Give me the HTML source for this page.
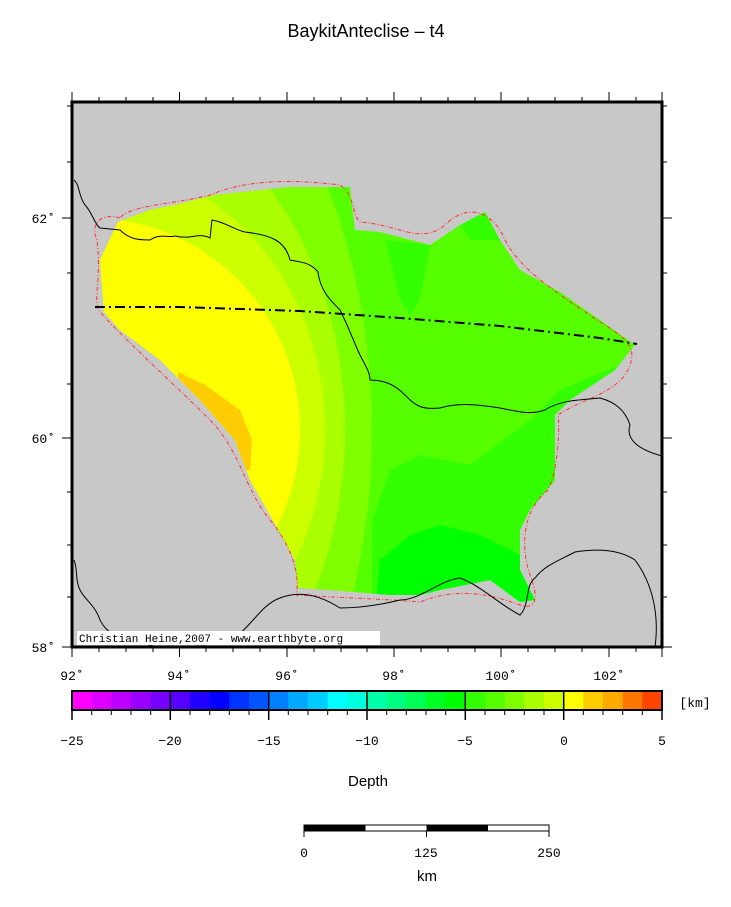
<!DOCTYPE html>
<html><head><meta charset="utf-8"><style>
body{margin:0;background:#fff;width:731px;height:902px;overflow:hidden;font-family:"Liberation Sans",sans-serif}
</style></head><body>
<svg width="731" height="902" xmlns="http://www.w3.org/2000/svg">
<defs>
<clipPath id="reg"><path d="M118,222 L150,210 L175,205 L215,195 L290,187 L350,187 L355,230 L380,232 L430,245 L460,225 L485,212 L500,240 L520,270 L560,292 L600,320 L635,345 L615,370 L600,380 L570,400 L555,415 L555,480 L530,510 L520,530 L520,570 L535,600 L520,602 L490,580 L440,590 L420,595 L390,595 L330,590 L298,588 L295,560 L270,515 L250,480 L235,440 L200,400 L160,360 L120,330 L104,312 L100,260 Z"/></clipPath>
<clipPath id="frm"><rect x="72" y="102" width="590" height="545"/></clipPath>
</defs>
<text x="366" y="37" text-anchor="middle" font-size="18">BaykitAnteclise – t4</text>
<rect x="72" y="102" width="590" height="545" fill="#c8c8c8"/>
<g clip-path="url(#reg)">
<rect x="72" y="102" width="590" height="545" fill="#55ff00"/>
<ellipse cx="90" cy="430" rx="282" ry="450" fill="#80ff00"/>
<ellipse cx="90" cy="430" rx="255" ry="340" fill="#aaff00"/>
<ellipse cx="90" cy="430" rx="235" ry="267" fill="#ccff00"/>
<ellipse cx="90" cy="430" rx="210" ry="212" fill="#ffff00"/>
<path d="M178,372 L205,385 L240,410 L252,440 L250,470 L238,470 L210,430 L178,380 Z" fill="#ffcc00"/>
<path d="M385,240 L430,245 L420,300 L410,315 L400,300 Z" fill="#33ff00"/>
<path d="M460,225 L485,212 L500,240 L470,240 Z" fill="#33ff00"/>
<path d="M372,640 L372,520 L390,470 L420,455 L470,465 L490,450 L530,420 L560,390 L620,365 L620,400 L560,420 L560,640 Z" fill="#33ff00"/>
<path d="M372,640 L380,560 L410,535 L440,525 L480,535 L510,550 L530,560 L540,640 Z" fill="#00ff00"/>
</g>
<g clip-path="url(#frm)" fill="none">
<path d="M120,218 C100,212 90,225 97,240 C102,280 92,300 100,312 C130,345 170,380 210,420 C240,450 245,490 270,520 C295,550 300,580 296,595 C350,598 400,600 420,602 C450,590 480,590 520,605 C535,610 540,600 530,575 C520,545 523,510 548,490 C558,470 560,430 558,415 C580,400 610,395 625,375 C640,350 630,340 600,322 C560,295 520,270 505,240 C495,215 470,200 445,225 C420,245 400,225 360,222 C352,215 355,195 340,185 C300,180 250,178 210,195 C170,205 130,205 120,218 Z" stroke="#ff3030" stroke-width="1" stroke-dasharray="4,2,1,2"/>
<path d="M74,180 C80,185 78,195 85,205 C92,212 95,225 100,228 L120,230 C130,240 140,240 150,240 C160,233 168,238 175,236 C190,240 200,232 210,238 L212,220 C225,222 235,230 245,232 C270,235 285,240 290,260 C300,262 310,262 318,272 C320,290 330,300 340,310 C350,330 355,345 360,355 C365,365 370,372 370,380 C385,380 395,385 405,395 C415,405 420,410 440,408 C460,402 480,405 500,408 C520,412 530,415 545,410 C560,400 580,400 600,398 C615,402 625,410 630,425 C625,440 640,450 662,456" stroke="#000" stroke-width="1"/>
<path d="M74,560 C78,570 75,580 80,590 C85,600 95,605 100,620 C110,640 130,640 150,645 C180,640 200,650 230,640 C250,630 260,605 280,598 C300,590 320,595 340,608 C360,608 380,605 400,600 C420,600 440,580 460,578 C480,585 500,605 520,615 C530,605 525,585 535,578 C545,565 560,560 575,552 C600,548 620,550 635,560 C650,580 660,610 655,647" stroke="#000" stroke-width="1"/>
<path d="M95,307 L180,307 L300,311 L400,318 L500,326 L600,338 L637,344" stroke="#000" stroke-width="2" stroke-dasharray="10,4,2,4"/>
</g>
<rect x="77" y="631" width="303" height="14" fill="#fff"/>
<text x="79" y="642" font-family="Liberation Mono,monospace" font-size="11" fill="#000">Christian Heine,2007 - www.earthbyte.org</text>
<rect x="72" y="102" width="590" height="545" fill="none" stroke="#000" stroke-width="3"/>
<g stroke="#000" stroke-width="1">
<path d="M72,102v-10M179.5,102v-10M287,102v-10M394,102v-10M501,102v-10M609,102v-10M662,102v-10M72,647v10M179.5,647v10M287,647v10M394,647v10M501,647v10M609,647v10M662,647v10"/>
<path d="M99,102v-5M126,102v-5M153,102v-5M206,102v-5M233,102v-5M260,102v-5M314,102v-5M341,102v-5M367,102v-5M421,102v-5M448,102v-5M475,102v-5M528,102v-5M555,102v-5M582,102v-5M636,102v-5M99,647v5M126,647v5M153,647v5M206,647v5M233,647v5M260,647v5M314,647v5M341,647v5M367,647v5M421,647v5M448,647v5M475,647v5M528,647v5M555,647v5M582,647v5M636,647v5"/>
<path d="M72,647h-10M72,438h-10M72,218h-10M662,647h10M662,438h10M662,218h10"/>
<path d="M72,597h-5M72,545h-5M72,492h-5M72,384h-5M72,329h-5M72,273h-5M72,162h-5M72,106h-5M662,597h5M662,545h5M662,492h5M662,384h5M662,329h5M662,273h5M662,162h5M662,106h5"/>
</g>
<g font-family="Liberation Mono,monospace" font-size="13" fill="#000">
<text x="55" y="652" text-anchor="end">58˚</text>
<text x="55" y="443" text-anchor="end">60˚</text>
<text x="55" y="223" text-anchor="end">62˚</text>
<text x="72" y="680" text-anchor="middle">92˚</text>
<text x="179" y="680" text-anchor="middle">94˚</text>
<text x="287" y="680" text-anchor="middle">96˚</text>
<text x="394" y="680" text-anchor="middle">98˚</text>
<text x="501" y="680" text-anchor="middle">100˚</text>
<text x="609" y="680" text-anchor="middle">102˚</text>
</g>
<g>
<rect x="72" y="691" width="20" height="19" fill="#ff00ff"/>
<rect x="91.7" y="691" width="20" height="19" fill="#dd00ff"/>
<rect x="111.3" y="691" width="20" height="19" fill="#bb00ff"/>
<rect x="131" y="691" width="20" height="19" fill="#9900ff"/>
<rect x="150.7" y="691" width="20" height="19" fill="#7700ff"/>
<rect x="170.3" y="691" width="20" height="19" fill="#5500ff"/>
<rect x="190" y="691" width="20" height="19" fill="#2200ff"/>
<rect x="209.7" y="691" width="20" height="19" fill="#0000ff"/>
<rect x="229.3" y="691" width="20" height="19" fill="#0033ff"/>
<rect x="249" y="691" width="20" height="19" fill="#0055ff"/>
<rect x="268.7" y="691" width="20" height="19" fill="#0080ff"/>
<rect x="288.3" y="691" width="20" height="19" fill="#00aaff"/>
<rect x="308" y="691" width="20" height="19" fill="#00ccff"/>
<rect x="327.7" y="691" width="20" height="19" fill="#00ffff"/>
<rect x="347.3" y="691" width="20" height="19" fill="#00ffdd"/>
<rect x="367" y="691" width="20" height="19" fill="#00ffaa"/>
<rect x="386.7" y="691" width="20" height="19" fill="#00ff80"/>
<rect x="406.3" y="691" width="20" height="19" fill="#00ff55"/>
<rect x="426" y="691" width="20" height="19" fill="#00ff22"/>
<rect x="445.7" y="691" width="20" height="19" fill="#00ff00"/>
<rect x="465.3" y="691" width="20" height="19" fill="#33ff00"/>
<rect x="485" y="691" width="20" height="19" fill="#55ff00"/>
<rect x="504.7" y="691" width="20" height="19" fill="#80ff00"/>
<rect x="524.3" y="691" width="20" height="19" fill="#aaff00"/>
<rect x="544" y="691" width="20" height="19" fill="#ccff00"/>
<rect x="563.7" y="691" width="20" height="19" fill="#ffff00"/>
<rect x="583.3" y="691" width="20" height="19" fill="#ffcc00"/>
<rect x="603" y="691" width="20" height="19" fill="#ffaa00"/>
<rect x="622.7" y="691" width="20" height="19" fill="#ff7700"/>
<rect x="642.3" y="691" width="19.7" height="19" fill="#ff4400"/>
</g>
<rect x="72" y="691" width="590" height="19" fill="none" stroke="#000" stroke-width="2"/>
<g stroke="#000" stroke-width="1.5">
<path d="M170.3,691v19M268.7,691v19M367,691v19M465.3,691v19M563.7,691v19"/>
<path d="M72,710v10M170.3,710v10M268.7,710v10M367,710v10M465.3,710v10M563.7,710v10M662,710v10"/>
</g>
<g stroke="#000" stroke-width="1"><path d="M91.7,710v5M111.3,710v5M131,710v5M150.7,710v5M190,710v5M209.7,710v5M229.3,710v5M249,710v5M288.3,710v5M308,710v5M327.7,710v5M347.3,710v5M386.7,710v5M406.3,710v5M426,710v5M445.7,710v5M485,710v5M504.7,710v5M524.3,710v5M544,710v5M583.3,710v5M603,710v5M622.7,710v5M642.3,710v5"/></g>
<g font-family="Liberation Mono,monospace" font-size="13" fill="#000" text-anchor="middle">
<text x="72" y="745">−25</text><text x="170" y="745">−20</text><text x="269" y="745">−15</text><text x="367" y="745">−10</text><text x="465" y="745">−5</text><text x="564" y="745">0</text><text x="662" y="745">5</text>
<text x="695" y="707">[km]</text>
</g>
<text x="368" y="786" text-anchor="middle" font-size="15">Depth</text>
<rect x="304" y="825" width="61.5" height="6" fill="#000"/>
<rect x="426.5" y="825" width="61.5" height="6" fill="#000"/>
<rect x="304" y="825" width="245" height="6" fill="none" stroke="#000" stroke-width="1"/>
<path d="M304,831v6M426.5,831v6M549,831v6" stroke="#000"/>
<g font-family="Liberation Mono,monospace" font-size="13" text-anchor="middle">
<text x="304" y="857">0</text><text x="426" y="857">125</text><text x="549" y="857">250</text></g>
<text x="427" y="881" text-anchor="middle" font-size="15">km</text>
</svg>
</body></html>
